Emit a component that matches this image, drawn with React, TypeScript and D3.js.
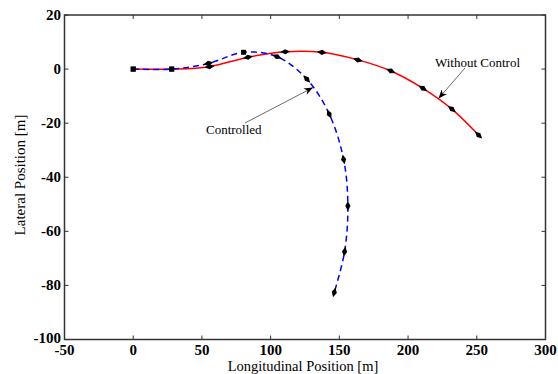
import React from "react";
import * as d3 from "d3";

// Vehicle positions sampled at equal time steps [longitudinal m, lateral m]
const withoutControlX = [0, 28, 55.5, 83.5, 110.6, 137.3, 163.5, 187.5, 210.8, 231.9, 251.3];
const withoutControlY = [0, 0, 0.9, 4.4, 6.4, 6.2, 3.4, -0.7, -7.1, -14.8, -24.4];
const controlledX = [0, 28, 54.8, 80.3, 104.6, 126.3, 142.6, 153.1, 156.2, 153.8, 146.3];
const controlledY = [0, 0, 2.1, 6.2, 4.6, -3.7, -16.6, -33.4, -50.6, -67.5, -82.6];
// which samples are drawn as square markers (the rest are heading diamonds)
const withoutControlSquare = [true, true, false, false, false, false, false, false, false, false, false];
const controlledSquare = [true, true, false, true, false, false, false, false, false, false, false];

const xTicks = [-50, 0, 50, 100, 150, 200, 250, 300];
const yTicks = [20, 0, -20, -40, -60, -80, -100];

const W = 558;
const H = 374;
const left = 64.5;
const right = 545.5;
const top = 15;
const bottom = 339.5;

const x = d3.scaleLinear().domain([-50, 300]).range([left, right]);
const y = d3.scaleLinear().domain([-100, 20]).range([bottom, top]);

type P = [number, number];

function toPoints(xs: number[], ys: number[]): P[] {
  return xs.map((v, i) => [v, ys[i]] as P);
}

const line = d3
  .line<P>()
  .x((d) => x(d[0]))
  .y((d) => y(d[1]))
  .curve(d3.curveCatmullRom.alpha(0.5));

const serif = "'Liberation Serif', 'Times New Roman', serif";

function Markers({ pts, squares }: { pts: P[]; squares: boolean[] }) {
  return (
    <g>
      {pts.map((p, i) => {
        const px = x(p[0]);
        const py = y(p[1]);
        if (squares[i]) {
          return <rect key={i} x={px - 2.5} y={py - 2.5} width={5} height={5} fill="#000" />;
        }
        const a = pts[Math.max(0, i - 1)];
        const b = pts[Math.min(pts.length - 1, i + 1)];
        const ang = (Math.atan2(y(b[1]) - y(a[1]), x(b[0]) - x(a[0])) * 180) / Math.PI;
        return (
          <path
            key={i}
            d="M-5,0 L0,-2.6 L5,0 L0,2.6 Z"
            fill="#000"
            transform={`translate(${px},${py}) rotate(${ang})`}
          />
        );
      })}
    </g>
  );
}

export default function App() {
  const red = toPoints(withoutControlX, withoutControlY);
  const blue = toPoints(controlledX, controlledY);
  const axisColor = "#333";
  const tickLen = 4;
  return (
    <svg width={W} height={H} style={{ position: "absolute", left: 0, top: 0, background: "#fff" }}>
      <defs>
        <marker id="ah" viewBox="0 0 10 10" refX="10" refY="5" markerWidth="9" markerHeight="9" orient="auto" markerUnits="userSpaceOnUse">
          <path d="M0,1 L10,5 L0,9 L3,5 Z" fill="#000" />
        </marker>
      </defs>
      <rect x={0} y={0} width={W} height={H} fill="#fff" />

      {/* trajectories */}
      <path d={line(red) || ""} fill="none" stroke="#ff0000" strokeWidth={1.5} />
      <path d={line(blue) || ""} fill="none" stroke="#0000ff" strokeWidth={1.5} strokeDasharray="6,4" />
      <Markers pts={red} squares={withoutControlSquare} />
      <Markers pts={blue} squares={controlledSquare} />

      {/* frame */}
      <rect x={left} y={top} width={right - left} height={bottom - top} fill="none" stroke={axisColor} strokeWidth={1.5} />
      {xTicks.map((t) => (
        <g key={"x" + t}>
          <line x1={x(t)} x2={x(t)} y1={bottom} y2={bottom - tickLen} stroke={axisColor} />
          <line x1={x(t)} x2={x(t)} y1={top} y2={top + tickLen} stroke={axisColor} />
          <text x={x(t)} y={354.5} textAnchor="middle" fontFamily={serif} fontWeight="bold" fontSize={15} fill="#000">
            {t}
          </text>
        </g>
      ))}
      {yTicks.map((t) => (
        <g key={"y" + t}>
          <line x1={left} x2={left + tickLen} y1={y(t)} y2={y(t)} stroke={axisColor} />
          <line x1={right} x2={right - tickLen} y1={y(t)} y2={y(t)} stroke={axisColor} />
          <text x={61} y={y(t) + (t === -100 ? 3.5 : 5)} textAnchor="end" fontFamily={serif} fontWeight="bold" fontSize={15} fill="#000">
            {t}
          </text>
        </g>
      ))}

      {/* axis titles */}
      <text x={303} y={370.7} textAnchor="middle" fontFamily={serif} fontSize={14.5} fill="#000">
        Longitudinal Position [m]
      </text>
      <text transform={`translate(25,175) rotate(-90)`} textAnchor="middle" fontFamily={serif} fontSize={15} fill="#000">
        Lateral Position [m]
      </text>

      {/* annotations */}
      <line x1={245} y1={123} x2={313} y2={87.5} stroke="#444" strokeWidth={0.8} markerEnd="url(#ah)" />
      <text x={206} y={134} fontFamily={serif} fontSize={13} fill="#000">
        Controlled
      </text>
      <line x1={465} y1={68} x2={438.5} y2={98.5} stroke="#444" strokeWidth={0.8} markerEnd="url(#ah)" />
      <text x={435} y={67} fontFamily={serif} fontSize={13} fill="#000">
        Without Control
      </text>
    </svg>
  );
}
